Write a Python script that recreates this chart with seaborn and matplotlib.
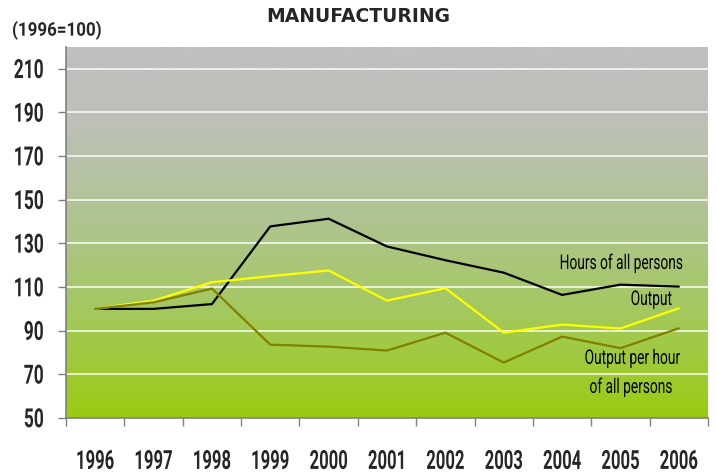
import numpy as np
import pandas as pd
import matplotlib
matplotlib.use("Agg")
import matplotlib.pyplot as plt
from matplotlib.colors import LinearSegmentedColormap
from matplotlib.patheffects import AbstractPathEffect
from matplotlib.transforms import Affine2D
import seaborn as sns

years = ["1996", "1997", "1998", "1999", "2000", "2001", "2002", "2003", "2004", "2005", "2006"]
hours_all_persons = [100.0, 100.0, 102.2, 137.8, 141.3, 128.6, 122.3, 116.6, 106.4, 111.1, 110.2]
output = [100.0, 103.8, 112.2, 115.0, 117.6, 103.8, 109.5, 89.1, 92.8, 91.0, 100.3]
output_per_hour = [100.0, 103.0, 109.3, 83.6, 82.7, 80.9, 89.1, 75.4, 87.3, 82.0, 91.1]
y_ticks = [50, 70, 90, 110, 130, 150, 170, 190, 210]

series_names = ["Hours of all persons", "Output", "Output per hour of all persons"]
series_colors = ["#000000", "#FFFF00", "#808000"]


class Tall(AbstractPathEffect):
    """Stretch glyphs vertically to mimic a condensed typeface.

    The glyphs keep their width; the anchor line ('baseline', 'center' or
    'top' of the glyph outlines) stays where the text was laid out.
    """

    def __init__(self, sy, anchor="baseline"):
        super().__init__()
        self.sy = sy
        self.anchor = anchor

    def draw_path(self, renderer, gc, tpath, affine, rgbFace=None):
        ys = tpath.vertices[:, 1] if len(tpath.vertices) else np.array([0.0])
        if self.anchor == "top":
            cy = ys.max()
        elif self.anchor == "center":
            cy = 0.5 * (ys.min() + ys.max())
        else:
            cy = 0.0
        t = Affine2D().translate(0, -cy).scale(1, self.sy).translate(0, cy)
        renderer.draw_path(gc, tpath, t + affine, rgbFace)


sns.set_theme(style="white")
plt.rcParams["font.family"] = ["Roboto", "DejaVu Sans"]

df = pd.DataFrame({
    "pos": list(range(len(years))) * 3,
    "value": hours_all_persons + output + output_per_hour,
    "series": [s for s in series_names for _ in years],
})

fig = plt.figure(figsize=(7.17, 4.73), dpi=100)
ax = fig.add_axes([66 / 717, 55 / 473, 642 / 717, 371 / 473])

# vertical gradient background: grey at the top fading into lime green
grad = LinearSegmentedColormap.from_list(
    "bg",
    [(0.0, "#C0C0C0"), (0.2, "#BDC0B8"), (0.45, "#B0C494"),
     (0.7, "#A4C862"), (1.0, "#99CC11")])
ax.imshow(np.linspace(0, 1, 256).reshape(-1, 1), cmap=grad, aspect="auto",
          extent=[-0.5, 10.5, 50, 220], zorder=0, interpolation="bicubic")

for yv in y_ticks[1:]:
    ax.axhline(yv, color="white", lw=1.4, alpha=0.75, zorder=1)

sns.lineplot(data=df, x="pos", y="value", hue="series", hue_order=series_names,
             palette=dict(zip(series_names, series_colors)), linewidth=1.6,
             legend=False, ax=ax, zorder=3)

ax.set_xlim(-0.5, 10.5)
ax.set_ylim(50, 220)
ax.set_xlabel("")
ax.set_ylabel("")

ax.set_yticks(y_ticks)
ax.set_yticklabels([str(v) for v in y_ticks], fontsize=12.5, fontweight="bold")
ax.tick_params(axis="y", direction="out", length=6, width=1, color="#808080",
               pad=10, left=True)

ax.set_xticks(np.arange(-0.5, 11.0, 1.0))
ax.set_xticklabels([])
ax.set_xticks(np.arange(len(years)), minor=True)
ax.set_xticklabels(years, minor=True, fontsize=12, fontweight="bold")
ax.tick_params(axis="x", which="major", direction="out", length=6, width=1,
               color="#808080", bottom=True)
ax.tick_params(axis="x", which="minor", length=0, pad=23)

for lbl in ax.get_yticklabels():
    lbl.set_path_effects([Tall(1.52, "center")])
for lbl in ax.get_xticklabels(minor=True):
    lbl.set_path_effects([Tall(1.58, "top")])

for side in ["top", "right"]:
    ax.spines[side].set_visible(False)
for side in ["left", "bottom"]:
    ax.spines[side].set_color("#808080")
    ax.spines[side].set_linewidth(1.2)

fig.text(0.5, 0.986, "MANUFACTURING", ha="center", va="top", fontsize=13.5,
         fontweight="bold", family=["DejaVu Sans"])
sub = fig.text(12 / 717, 1 - 21 / 473, "(1996=100)", ha="left", va="top",
               fontsize=12.2, fontweight="bold")
sub.set_path_effects([Tall(1.11, "top")])

label_kw = dict(fontsize=9.9, color="black", zorder=4, va="baseline")
t1 = ax.text(10.07, 118.3, "Hours of all persons", ha="right", **label_kw)
t2 = ax.text(9.88, 101.8, "Output", ha="right", **label_kw)
t3 = ax.text(10.02, 74.8, "Output per hour", ha="right", **label_kw)
t4 = ax.text(9.18, 61.5, "of all persons", ha="center", **label_kw)
for t in (t1, t2, t3, t4):
    t.set_path_effects([Tall(1.47, "baseline")])

fig.savefig("out.png", dpi=100)
